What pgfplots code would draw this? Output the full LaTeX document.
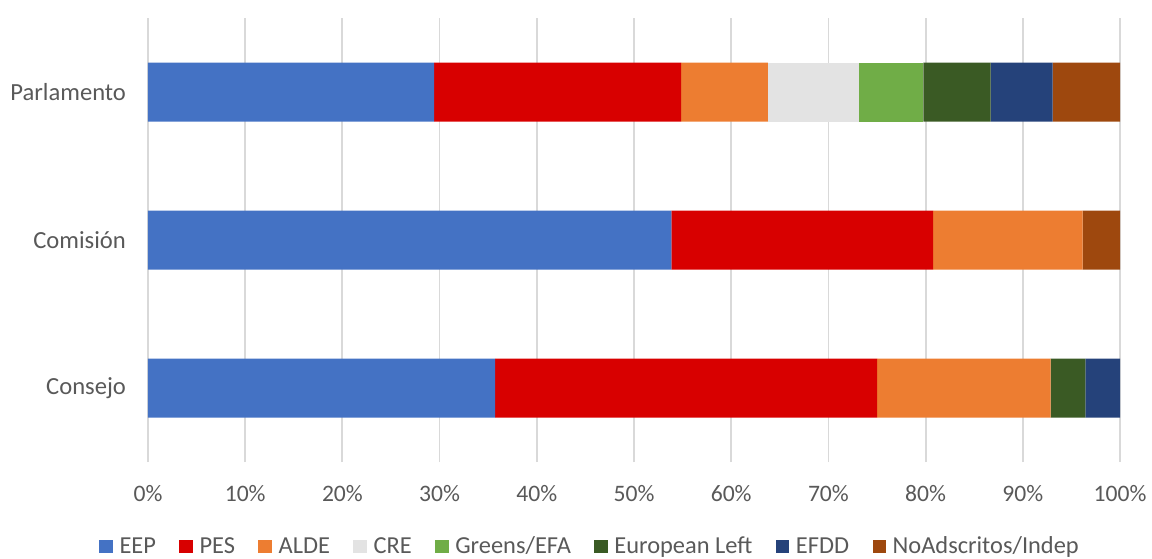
\documentclass[border=0pt]{standalone}
\usepackage{pgfplots}
\pgfplotsset{compat=1.18}
\usepackage{fontspec}
\setmainfont{Carlito}
\definecolor{cEEP}{HTML}{4472C4}
\definecolor{cPES}{HTML}{D80000}
\definecolor{cALDE}{HTML}{ED7D31}
\definecolor{cCRE}{HTML}{E3E3E3}
\definecolor{cGRE}{HTML}{70AD47}
\definecolor{cEL}{HTML}{3A5A24}
\definecolor{cEFDD}{HTML}{25427A}
\definecolor{cNI}{HTML}{9E480E}
\definecolor{txt}{HTML}{595959}
\definecolor{gridc}{HTML}{D9D9D9}
\begin{document}
\begin{tikzpicture}
\path[use as bounding box] (-74pt,-48pt) rectangle (502pt,231pt);
\begin{axis}[
  at={(0pt,0pt)}, anchor=south west,
  scale only axis, width=486pt, height=222pt,
  xbar stacked, bar width=29.5pt,
  xmin=0, xmax=100, ymin=-0.5, ymax=2.5,
  axis line style={draw=none},
  xmajorgrids, major grid style={gridc, line width=0.9pt},
  major tick length=0pt,
  xtick={0,10,...,100},
  xticklabel={\pgfmathprintnumber{\tick}\%},
  ytick={0,1,2}, yticklabels={Consejo, Comisión, Parlamento},
  /pgf/number format/assume math mode=true,
  xticklabel style={font=\fontsize{11.8}{13}\selectfont, text=txt, yshift=-8pt},
  yticklabel style={font=\fontsize{12.3}{14}\selectfont, text=txt, xshift=-7.5pt},
  legend columns=-1,
  legend style={at={(0.455,-0.191)}, anchor=center, draw=none, fill=none,
    font=\fontsize{12.2}{14}\selectfont, text=txt,
    nodes={inner xsep=1.2pt},
    /tikz/every odd column/.append style={column sep=2.2pt},
    /tikz/every even column/.append style={column sep=10.5pt}},
  legend image code/.code={\fill[#1] (0pt,-3.3pt) rectangle (6.7pt,3.4pt);},
  every axis plot/.append style={draw=none},
]
\addplot[fill=cEEP] coordinates {(35.71,0) (53.85,1) (29.43,2)};
\addplot[fill=cPES] coordinates {(39.29,0) (26.92,1) (25.43,2)};
\addplot[fill=cALDE] coordinates {(17.86,0) (15.38,1) (8.92,2)};
\addplot[fill=cCRE] coordinates {(0,0) (0,1) (9.32,2)};
\addplot[fill=cGRE] coordinates {(0,0) (0,1) (6.66,2)};
\addplot[fill=cEL] coordinates {(3.57,0) (0,1) (6.92,2)};
\addplot[fill=cEFDD] coordinates {(3.57,0) (0,1) (6.39,2)};
\addplot[fill=cNI] coordinates {(0,0) (3.85,1) (6.93,2)};
\legend{EEP, PES, ALDE, CRE, Greens/EFA, European Left, EFDD, NoAdscritos/Indep}
\end{axis}
\end{tikzpicture}
\end{document}
